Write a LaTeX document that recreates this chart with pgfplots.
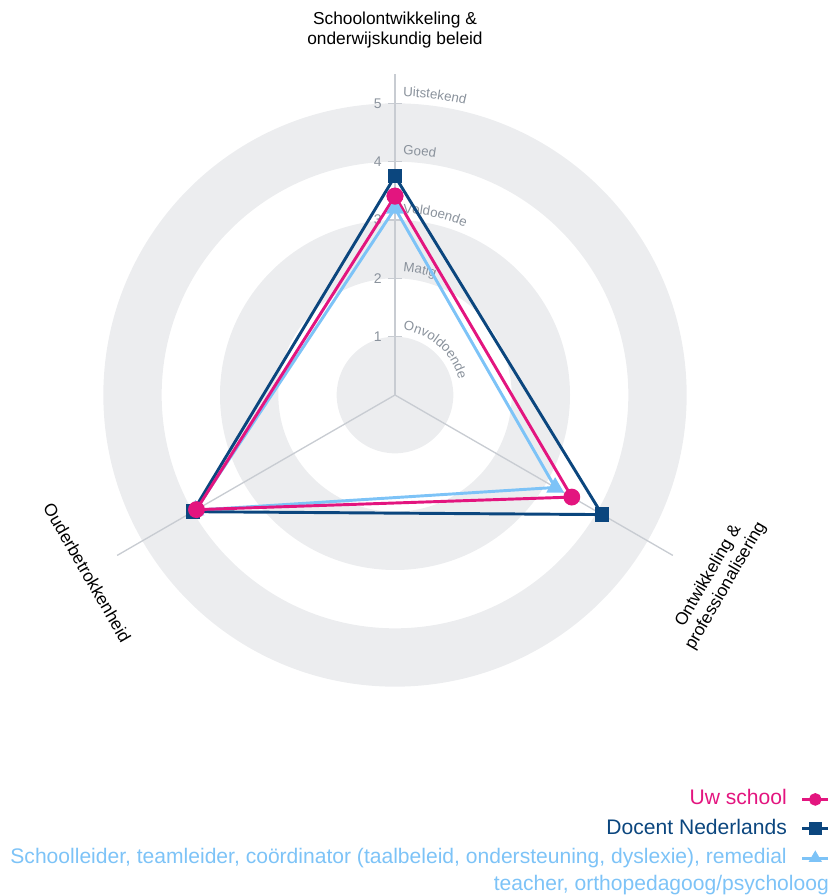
\documentclass[border=0pt]{standalone}
\usepackage{pgfplots}
\pgfplotsset{compat=1.18}
\usepgfplotslibrary{polar}
\usetikzlibrary{calc,decorations.text}
\usepackage{fontspec}
\setmainfont{Liberation Sans}
\definecolor{cpink}{HTML}{E3157F}
\definecolor{cnavy}{HTML}{0B467E}
\definecolor{clight}{HTML}{7DC3F7}
\definecolor{ring}{HTML}{ECEDEF}
\definecolor{gridc}{HTML}{C8CCD2}
\definecolor{lab}{HTML}{8A929C}
\pgfdeclarelayer{background}
\pgfsetlayers{background,main}
\begin{document}
\begin{tikzpicture}
\begin{polaraxis}[
  hide axis, scale only axis, width=481.25pt, height=481.25pt,
  ymin=0, ymax=5.5, xmin=0, xmax=360,
  clip=false,
  reverse legend,
  legend cell align=right,
  legend plot pos=right,
  legend style={at={(1.178,-0.107)}, anchor=north east, draw=none, fill=none,
    font=\fontsize{15.8}{20.25}\selectfont, row sep=0pt, column sep=10.5pt, inner sep=0pt,
    nodes={inner sep=0pt, text height=15pt, text depth=7pt}},
  legend image code/.code={\draw[mark repeat=2,mark phase=2,#1, mark size=3.6pt] plot coordinates {(0pt,0pt)(9.75pt,0pt)(19.5pt,0pt)};},
]
\path (axis cs:0,0) coordinate (O) (axis cs:0,1) coordinate (E1);
\addplot[clight, line width=2.2pt, mark=triangle*, mark size=5.5pt, mark options={solid}] coordinates {(90,3.2) (-30,3.17) (210,3.95) (90,3.2)};
\addlegendentry{\begin{tabular}[t]{@{}r@{}}\color{clight}Schoolleider, teamleider, coördinator (taalbeleid, ondersteuning, dyslexie), remedial\\ \color{clight}\makebox[0pt][r]{teacher, orthopedagoog/psycholoog\kern-31.5pt}\end{tabular}}
\addplot[cnavy, line width=2.2pt, mark=square*, mark size=4.3pt, mark options={solid}] coordinates {(90,3.75) (-30,4.1) (210,4.0) (90,3.75)};
\addlegendentry{\textcolor{cnavy}{Docent Nederlands}}
\addplot[cpink, line width=2.2pt, mark=*, mark size=5.2pt, mark options={solid}] coordinates {(90,3.41) (-30,3.5) (210,3.93) (90,3.41)};
\addlegendentry{\textcolor{cpink}{Uw school}}
\end{polaraxis}
\path let \p1=($(E1)-(O)$), \n1={veclen(\x1,\y1)} in \pgfextra{\xdef\R{\n1}};
\begin{pgfonlayer}{background}
\fill[ring, even odd rule] (O) circle[radius=5*\R] circle[radius=4*\R] circle[radius=3*\R] circle[radius=2*\R] circle[radius=\R];
\foreach \a in {90,-30,210} \draw[gridc, line width=1pt] (O) -- ($(O)+(\a:5.5*\R)$);
\foreach \k in {1,...,5} {
  \draw[gridc, line width=1pt] ($(O)+(-5.25pt,\k*\R)$) -- ($(O)+(5.25pt,\k*\R)$);
  \node[anchor=east, text=lab, font=\fontsize{10.5}{12}\selectfont, inner sep=0pt] at ($(O)+(-9.75pt,\k*\R)$) {\k};
}
\foreach \k/\t in {1/Onvoldoende,2/Matig,3/Voldoende,4/Goed,5/Uitstekend} {
  \path[decorate, decoration={text along path, text={|\fontsize{10}{12}\selectfont\color{lab}|\t}, text align={left indent=6pt}}]
    ($(O)+(90:{(\k+0.12)*\R})$) arc[start angle=90, end angle=-60, radius={(\k+0.12)*\R}];
}
\end{pgfonlayer}
\node[align=center, font=\fontsize{13}{15}\selectfont] at ($(O)+(90:6.26*\R)$) {Schoolontwikkeling \&\\onderwijskundig beleid};
\node[align=center, rotate=60, font=\fontsize{13}{15}\selectfont] at ($(O)+(-30:6.38*\R)$) {Ontwikkeling \&\\professionalisering};
\node[rotate=-60, font=\fontsize{13}{15}\selectfont] at ($(O)+(210:6.09*\R)$) {Ouderbetrokkenheid};
\pgfresetboundingbox
\path[use as bounding box] ($(O)+(-296.25pt,296.25pt)$) rectangle ($(O)+(327.75pt,-375.75pt)$);
\end{tikzpicture}
\end{document}
